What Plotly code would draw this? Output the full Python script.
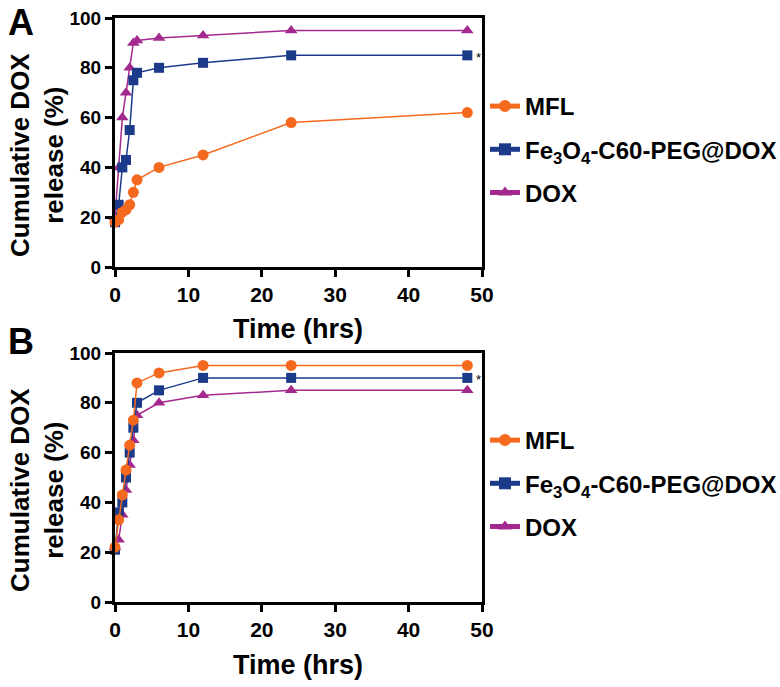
import plotly.graph_objects as go

# ---- data ----
time_h = [0, 0.5, 1, 1.5, 2, 2.5, 3, 6, 12, 24, 48]
a_mfl = [18, 19, 22, 23, 25, 30, 35, 40, 45, 58, 62]
a_fe = [18, 25, 40, 43, 55, 75, 78, 80, 82, 85, 85]
a_dox = [20, 40, 60, 70, 80, 90, 91, 92, 93, 95, 95]
b_mfl = [22, 33, 43, 53, 63, 73, 88, 92, 95, 95, 95]
b_fe = [21, 36, 40, 50, 60, 70, 80, 85, 90, 90, 90]
b_dox = [22, 25, 35, 45, 55, 65, 75, 80, 83, 85, 85]
series_names = ["MFL", "Fe<sub>3</sub>O<sub>4</sub>-C60-PEG@DOX", "DOX"]
x_ticks = [0, 10, 20, 30, 40, 50]
y_ticks = [0, 20, 40, 60, 80, 100]

colors = ["#F5691E", "#1B3B8A", "#A3298E"]
symbols = ["circle", "square", "triangle-up"]
sizes = [11, 10, 11]

FONT = "Liberation Sans, Arial, Helvetica, sans-serif"
W, H = 780, 687

fig = go.Figure()

panels = [
    ("x", "y", "legend", [a_mfl, a_fe, a_dox]),
    ("x2", "y2", "legend2", [b_mfl, b_fe, b_dox]),
]
for xa, ya, lg, vals in panels:
    # draw DOX first, MFL last (on top)
    for i in [2, 1, 0]:
        fig.add_trace(go.Scatter(
            x=time_h, y=vals[i], name=series_names[i], mode="lines+markers",
            xaxis=xa, yaxis=ya, legend=lg, legendgroup=f"{lg}_{i}", legendrank=i + 1,
            line=dict(color=colors[i], width=1.5),
            marker=dict(color=colors[i], symbol=symbols[i], size=sizes[i]),
            cliponaxis=False, showlegend=True,
        ))

def px_x(p):
    return p / W

def px_y(p):
    return 1 - p / H

x_dom = [px_x(115), px_x(482)]
axis_common = dict(
    showline=True, linewidth=3, linecolor="black", mirror=True,
    ticks="outside", ticklen=7, tickwidth=3, tickcolor="black",
    showgrid=False, zeroline=False, automargin=False,
)
xfont = dict(family=FONT, size=21, color="black", weight="bold")
yfont = dict(family=FONT, size=19, color="black", weight="bold")

layout = dict(
    width=W, height=H,
    margin=dict(l=0, r=0, t=0, b=0, autoexpand=False),
    plot_bgcolor="white", paper_bgcolor="white",
    font=dict(family=FONT, color="black"),
    xaxis=dict(domain=x_dom, range=[0, 50], tickvals=x_ticks, anchor="y", tickfont=xfont, **axis_common),
    yaxis=dict(domain=[px_y(267), px_y(18)], range=[0, 100], tickvals=y_ticks, anchor="x", tickfont=yfont, **axis_common),
    xaxis2=dict(domain=x_dom, range=[0, 50], tickvals=x_ticks, anchor="y2", tickfont=xfont, **axis_common),
    yaxis2=dict(domain=[px_y(602), px_y(353)], range=[0, 100], tickvals=y_ticks, anchor="x2", tickfont=yfont, **axis_common),
)
legend_common = dict(
    xanchor="left", yanchor="top", traceorder="grouped", tracegroupgap=9,
    font=dict(family=FONT, size=24, color="black", weight="bold"),
    bgcolor="rgba(0,0,0,0)", itemsizing="constant",
)
layout["legend"] = dict(x=px_x(485), y=px_y(84), **legend_common)
layout["legend2"] = dict(x=px_x(485), y=px_y(418), **legend_common)
fig.update_layout(**layout)

ann = []
title_font = dict(family=FONT, size=26, color="black", weight="bold")
for letter, top, ycenter, xtitle_y, yref, yval in [
    ("A", 22, 155, 329, "y", a_fe[-1]),
    ("B", 341, 490, 665, "y2", b_fe[-1]),
]:
    ann.append(dict(text=letter, x=px_x(6), y=px_y(top), xref="paper", yref="paper",
                    xanchor="left", yanchor="middle", showarrow=False,
                    font=dict(family=FONT, size=36, color="black", weight="bold")))
    ann.append(dict(text="Cumulative DOX<br>release (%)", x=px_x(37), y=px_y(ycenter),
                    xref="paper", yref="paper", xanchor="center", yanchor="middle",
                    textangle=-90, showarrow=False, font=title_font))
    ann.append(dict(text="Time (hrs)", x=px_x(298), y=px_y(xtitle_y), xref="paper", yref="paper",
                    xanchor="center", yanchor="middle", showarrow=False,
                    font=dict(family=FONT, size=27, color="black", weight="bold")))
    ann.append(dict(text="*", x=time_h[-1], y=yval, xref="x" if yref == "y" else "x2", yref=yref,
                    xshift=11, yshift=-2, showarrow=False,
                    font=dict(family=FONT, size=13, color="black")))
fig.update_layout(annotations=ann)

fig.write_html("out.html", config={"displayModeBar": False},
               post_script="document.body.style.margin='0px';")
